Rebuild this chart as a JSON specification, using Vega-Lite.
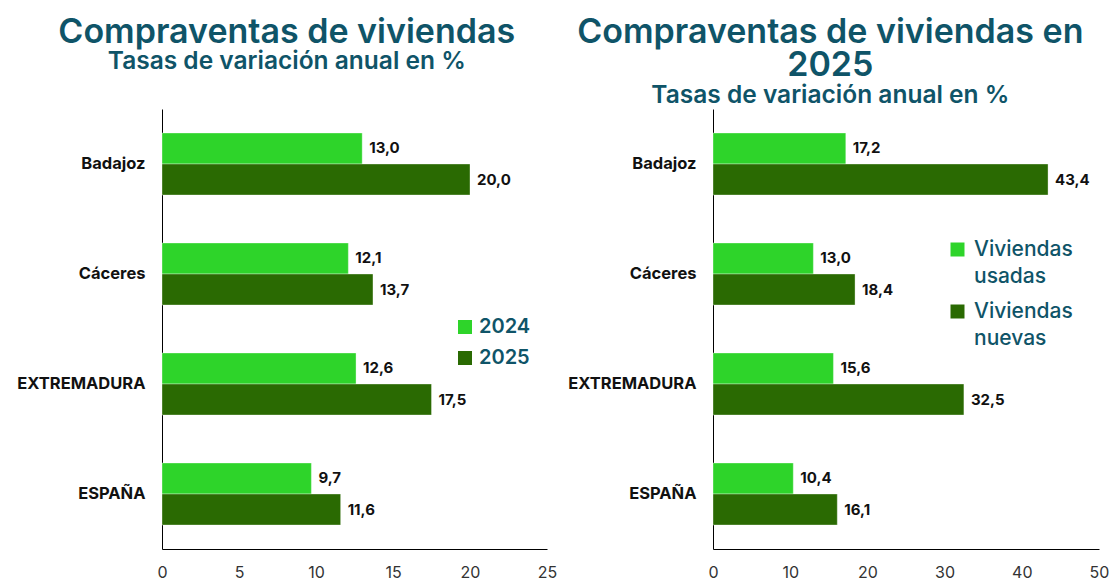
{
  "$schema": "https://vega.github.io/schema/vega-lite/v6.json",
  "padding": {"left": 16, "top": 15, "right": 5, "bottom": 0},
  "spacing": 10,
  "config": {
    "font": "Inter",
    "view": {"stroke": null},
    "locale": {"number": {"decimal": ",", "thousands": ".", "grouping": [3], "currency": ["", " €"]}},
    "style": {"guide-label": {"lineHeight": 27}},
    "axis": {"domainColor": "#000000", "domainWidth": 1, "ticks": false, "grid": false, "title": null},
    "title": {"color": "#0F5468", "subtitleColor": "#0F5468", "font": "Inter", "subtitleFont": "Inter", "fontWeight": 600, "subtitleFontWeight": 600, "anchor": "middle", "frame": "bounds"}
  },
  "datasets": {
    "left": [
      {"region": "Badajoz", "serie": "2024", "valor": 13.0},
      {"region": "Badajoz", "serie": "2025", "valor": 20.0},
      {"region": "Cáceres", "serie": "2024", "valor": 12.1},
      {"region": "Cáceres", "serie": "2025", "valor": 13.7},
      {"region": "EXTREMADURA", "serie": "2024", "valor": 12.6},
      {"region": "EXTREMADURA", "serie": "2025", "valor": 17.5},
      {"region": "ESPAÑA", "serie": "2024", "valor": 9.7},
      {"region": "ESPAÑA", "serie": "2025", "valor": 11.6}
    ],
    "right": [
      {"region": "Badajoz", "serie": "Viviendas usadas", "valor": 17.2},
      {"region": "Badajoz", "serie": "Viviendas nuevas", "valor": 43.4},
      {"region": "Cáceres", "serie": "Viviendas usadas", "valor": 13.0},
      {"region": "Cáceres", "serie": "Viviendas nuevas", "valor": 18.4},
      {"region": "EXTREMADURA", "serie": "Viviendas usadas", "valor": 15.6},
      {"region": "EXTREMADURA", "serie": "Viviendas nuevas", "valor": 32.5},
      {"region": "ESPAÑA", "serie": "Viviendas usadas", "valor": 10.4},
      {"region": "ESPAÑA", "serie": "Viviendas nuevas", "valor": 16.1}
    ]
  },
  "resolve": {"scale": {"color": "independent", "x": "independent", "y": "independent", "yOffset": "independent"}, "legend": {"color": "independent"}},
  "hconcat": [
    {
      "width": 385,
      "height": 440,
      "title": {"text": "Compraventas de viviendas", "subtitle": "Tasas de variación anual  en %", "fontSize": 34, "subtitleFontSize": 24.5, "subtitlePadding": 0, "offset": 36},
      "data": {"name": "left"},
      "encoding": {
        "y": {"field": "region", "type": "nominal", "sort": ["Badajoz", "Cáceres", "EXTREMADURA", "ESPAÑA"], "scale": {"paddingInner": 0.436, "paddingOuter": 0.218},
          "axis": {"labelFontSize": 16.5, "labelFontWeight": "bold", "labelColor": "#111111", "labelPadding": 17}},
        "yOffset": {"field": "serie", "type": "nominal", "sort": ["2024", "2025"], "scale": {"paddingInner": 0, "paddingOuter": 0}},
        "x": {"field": "valor", "type": "quantitative", "scale": {"domain": [0, 25], "nice": false}, "axis": {"values": [0, 5, 10, 15, 20, 25], "labelFontSize": 16, "labelColor": "#333333", "labelPadding": 15, "labelFlush": false}}
      },
      "layer": [
        {"mark": {"type": "bar", "stroke": "#ffffff", "strokeOpacity": 0.35, "strokeWidth": 1},
          "encoding": {"color": {"field": "serie", "type": "nominal", "scale": {"domain": ["2024", "2025"], "range": ["#2ED42A", "#2A6A02"]},
            "legend": {"orient": "none", "legendX": 293, "legendY": 208, "title": null, "symbolType": "square", "symbolSize": 196, "symbolStrokeWidth": 0, "labelFontSize": 20, "labelFontWeight": 600, "labelColor": "#0F5468", "rowPadding": 11, "labelOffset": 4}}}},
        {"mark": {"type": "text", "align": "left", "baseline": "middle", "dx": 7, "fontSize": 15, "fontWeight": "bold", "color": "#111111"},
          "encoding": {"text": {"field": "valor", "type": "quantitative", "format": ".1f"}}}
      ]
    },
    {
      "width": 386,
      "height": 440,
      "title": {"text": ["Compraventas de viviendas en", "2025"], "subtitle": "Tasas de variación anual en %", "fontSize": 34, "lineHeight": 33, "subtitleFontSize": 24.5, "subtitlePadding": 1, "offset": 2, "dx": -8},
      "data": {"name": "right"},
      "encoding": {
        "y": {"field": "region", "type": "nominal", "sort": ["Badajoz", "Cáceres", "EXTREMADURA", "ESPAÑA"], "scale": {"paddingInner": 0.436, "paddingOuter": 0.218},
          "axis": {"labelFontSize": 16.5, "labelFontWeight": "bold", "labelColor": "#111111", "labelPadding": 17}},
        "yOffset": {"field": "serie", "type": "nominal", "sort": ["Viviendas usadas", "Viviendas nuevas"], "scale": {"paddingInner": 0, "paddingOuter": 0}},
        "x": {"field": "valor", "type": "quantitative", "scale": {"domain": [0, 50], "nice": false}, "axis": {"values": [0, 10, 20, 30, 40, 50], "labelFontSize": 16, "labelColor": "#333333", "labelPadding": 15, "labelFlush": false}}
      },
      "layer": [
        {"mark": {"type": "bar", "stroke": "#ffffff", "strokeOpacity": 0.35, "strokeWidth": 1},
          "encoding": {"color": {"field": "serie", "type": "nominal", "scale": {"domain": ["Viviendas usadas", "Viviendas nuevas"], "range": ["#2ED42A", "#2A6A02"]},
            "legend": {"orient": "none", "legendX": 234, "legendY": 130, "title": null, "symbolType": "square", "symbolSize": 196, "symbolStrokeWidth": 0, "labelFontSize": 21, "labelFontWeight": 500, "labelColor": "#0F5468", "rowPadding": 13, "labelOffset": 6, "labelLimit": 200,
              "labelExpr": "datum.label == 'Viviendas usadas' ? ['Viviendas', '\u00a0\u00a0usadas'] : ['Viviendas', '\u00a0\u00a0nuevas']"}}}},
        {"mark": {"type": "text", "align": "left", "baseline": "middle", "dx": 7, "fontSize": 15, "fontWeight": "bold", "color": "#111111"},
          "encoding": {"text": {"field": "valor", "type": "quantitative", "format": ".1f"}}}
      ]
    }
  ]
}
